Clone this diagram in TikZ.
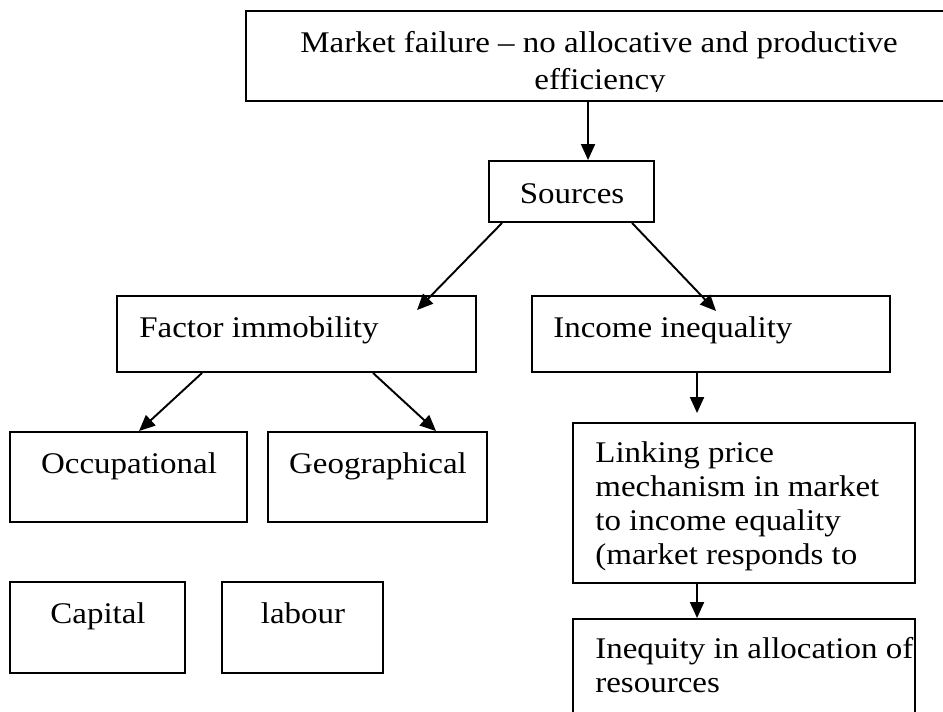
\documentclass[tikz,border=0pt]{standalone}
\usepackage{fontspec}
\setmainfont[FakeStretch=1.1]{Liberation Serif}
\usetikzlibrary{arrows.meta,calc,fit}

\begin{document}
\begin{tikzpicture}[x=0.02cm,y=-0.02cm,>={Triangle[length=0.32cm,width=0.28cm]},
    box/.style={draw,line width=1.1pt,rectangle,inner sep=0pt},
    txt/.style={inner sep=0pt,font=\fontsize{17.07}{20}\selectfont},
    link/.style={->,line width=1.1pt}]
  \useasboundingbox (0,0) rectangle (943,711);
  \clip (0,0) rectangle (943,711);

  % boxes
  \node[box,fit={(246,11)(952,101)}] (mf) {};
  \node[box,fit={(489,161)(654,222)}] (src) {};
  \node[box,fit={(117,296)(476,372)}] (fimm) {};
  \node[box,fit={(532,296)(890,372)}] (ineq) {};
  \node[box,fit={(10,432)(247,522)}] (occ) {};
  \node[box,fit={(268,432)(487,522)}] (geo) {};
  \node[box,fit={(10,582)(185,673)}] (cap) {};
  \node[box,fit={(222,582)(383,673)}] (lab) {};
  \node[box,fit={(573,423)(915,583)}] (lnk) {};
  \node[box,fit={(573,619)(915,730)}] (ineqt) {};

  % texts
  \begin{scope}
    \clip (246,11) rectangle (952,91);
    \node[txt,anchor=base] (mf-a) at (599,52) {Market failure – no allocative and productive};
    \node[txt,anchor=base] (mf-b) at (600,89) {efficiency};
  \end{scope}
  \node[txt,anchor=base] (src-t) at (572,203) {Sources};
  \node[txt,anchor=base west] (fimm-t) at (139,337) {Factor immobility};
  \node[txt,anchor=base west] (ineq-t) at (553,337) {Income inequality};
  \node[txt,anchor=base] (occ-t) at (129,473) {Occupational};
  \node[txt,anchor=base] (geo-t) at (378,473) {Geographical};
  \node[txt,anchor=base] (cap-t) at (98,623) {Capital};
  \node[txt,anchor=base] (lab-t) at (303,623) {labour};
  \begin{scope}
    \clip (573,423) rectangle (915,570);
    \foreach \lline [count=\i] in {{Linking price},{mechanism in market},{to income equality},{(market responds to}}
      \node[txt,anchor=base west] (lnk-\i) at (595,{462+34.2*(\i-1)}) {\lline};
  \end{scope}
  \node[txt,anchor=base west] (ineqt-a) at (595,658) {Inequity in allocation of};
  \node[txt,anchor=base west] (ineqt-b) at (595,692) {resources};

  % arrows
  \draw[link] ($(mf.south west)+(343,0)$) -- ($(src.north west)+(100,0)$);
  \draw[link] ($(src.south west)+(14,0)$) -- ($(fimm.north west)+(301,15)$);
  \draw[link] ($(src.south west)+(144,0)$) -- ($(ineq.north west)+(185,16)$);
  \draw[link] ($(fimm.south west)+(86,0)$) -- ($(occ.north west)+(130,0)$);
  \draw[link] ($(fimm.south west)+(257,0)$) -- ($(geo.north west)+(169,0)$);
  \draw[link] ($(ineq.south west)+(166,0)$) -- ($(lnk.north west)+(125,-9)$);
  \draw[link] ($(lnk.south west)+(125,0)$) -- ($(ineqt.north west)+(125,0)$);
\end{tikzpicture}
\end{document}
